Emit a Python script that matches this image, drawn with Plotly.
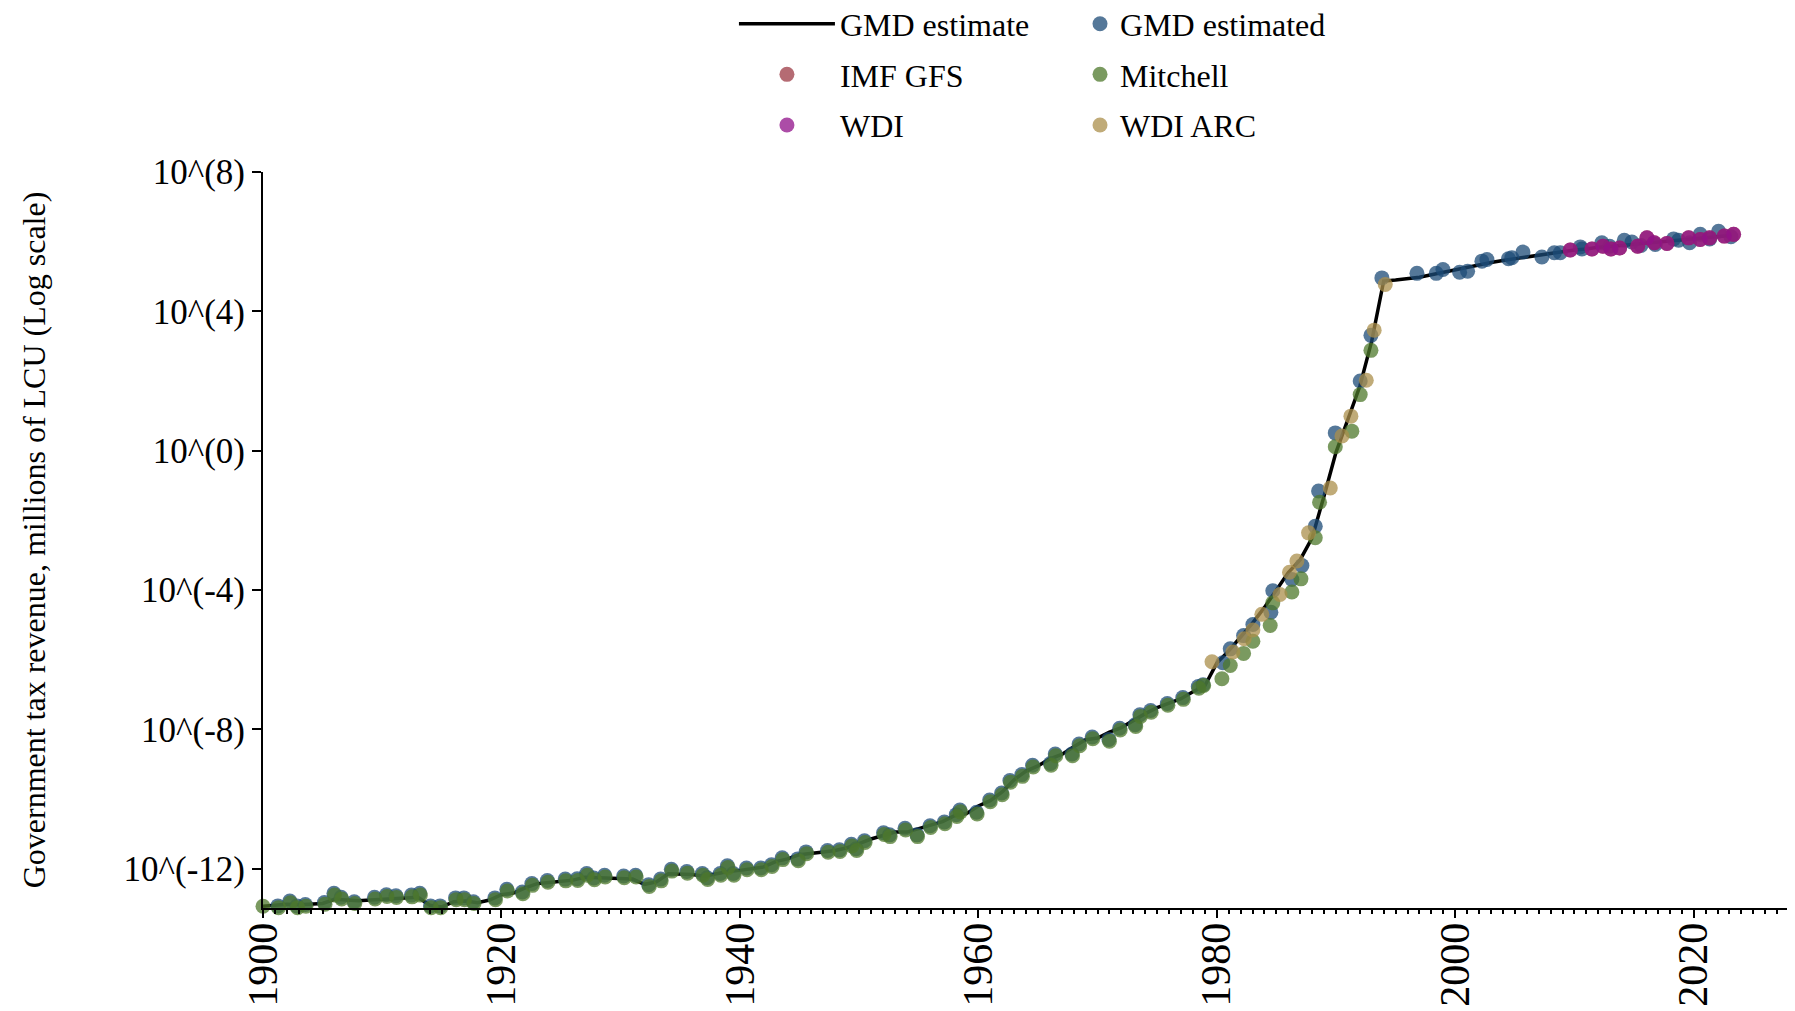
import plotly.graph_objects as go

# ---------------- data (log10 of millions of LCU) ----------------
line_years = list(range(1900, 2024))
line_log = [
    -13.08, -13.06, -13.02, -13.04, -13.02, -13.00, -12.88, -12.90, -12.92, -12.90,  # 1900-1909
    -12.88, -12.87, -12.85, -12.82, -13.05, -13.10, -12.95, -12.93, -12.98, -12.90,  # 1910-1919
    -12.75, -12.70, -12.55, -12.43, -12.40, -12.37, -12.33, -12.25, -12.26, -12.27,  # 1920-1929
    -12.27, -12.30, -12.45, -12.38, -12.15, -12.15, -12.17, -12.22, -12.15, -12.08,  # 1930-1939
    -12.05, -12.00, -11.95, -11.80, -11.72, -11.60, -11.55, -11.52, -11.48, -11.40,  # 1940-1949
    -11.28, -11.15, -11.05, -10.95, -10.95, -10.85, -10.77, -10.65, -10.48, -10.42,  # 1950-1959
    -10.20, -10.05, -9.80, -9.45, -9.20, -9.05, -8.85, -8.72, -8.50, -8.30,           # 1960-1969
    -8.25, -8.08, -7.95, -7.75, -7.55, -7.38, -7.25, -7.12, -6.92, -6.75,             # 1970-1979
    -6.10, -5.75, -5.35, -4.95, -4.50, -4.00, -3.50, -3.13, -2.50, -1.30,             # 1980-1989
    -0.05, 0.90, 1.85, 3.15, 4.87, 4.90, 4.93, 4.98, 5.05, 5.12,                      # 1990-1999
    5.20, 5.28, 5.34, 5.40, 5.46, 5.51, 5.56, 5.62, 5.67, 5.72,                       # 2000-2009
    5.76, 5.79, 5.84, 5.86, 5.89, 5.92, 5.95, 5.98, 6.01, 6.04,                       # 2010-2019
    6.07, 6.11, 6.15, 6.18,                                                           # 2020-2023
]

mitchell_x = [
    1900.0, 1901.3, 1902.3, 1902.9, 1903.6, 1905.2, 1906.0, 1906.6, 1907.7, 1909.4,
    1910.4, 1911.2, 1912.5, 1913.2, 1914.1, 1914.9, 1916.2, 1916.9, 1917.7, 1919.5,
    1920.5, 1921.8, 1922.6, 1923.9, 1925.4, 1926.4, 1927.2, 1927.8, 1928.7, 1930.3,
    1931.3, 1932.4, 1933.4, 1934.3, 1935.6, 1936.9, 1937.3, 1938.4, 1939.0, 1939.5,
    1940.6, 1941.8, 1942.7, 1943.6, 1944.9, 1945.6, 1947.4, 1948.4, 1949.4, 1949.8,
    1950.5, 1952.1, 1952.6, 1953.9, 1954.9, 1956.0, 1957.2, 1958.2, 1958.5, 1959.9,
    1961.0, 1962.0, 1962.7, 1963.7, 1964.6, 1966.1, 1966.5, 1967.9, 1968.5, 1969.6,
    1971.0, 1971.9, 1973.2, 1973.6, 1974.5, 1975.9, 1977.2, 1978.5, 1978.9,
    1980.43, 1981.13, 1982.25, 1983.03, 1984.48, 1984.7, 1986.3, 1987.06, 1988.26, 1988.62,
    1989.94, 1991.33, 1992.03, 1992.93,
]
mitchell_log = [
    -13.08, -13.12, -12.98, -13.12, -13.08, -13.02, -12.76, -12.87, -13.00, -12.87,
    -12.80, -12.83, -12.81, -12.76, -13.12, -13.12, -12.89, -12.89, -13.00, -12.89,
    -12.64, -12.72, -12.48, -12.39, -12.35, -12.34, -12.19, -12.32, -12.24, -12.26,
    -12.24, -12.51, -12.35, -12.07, -12.13, -12.19, -12.31, -12.19, -11.97, -12.19,
    -12.03, -12.03, -11.94, -11.74, -11.77, -11.57, -11.53, -11.51, -11.35, -11.48,
    -11.25, -11.02, -11.08, -10.89, -11.08, -10.82, -10.71, -10.50, -10.37, -10.43,
    -10.08, -9.88, -9.52, -9.35, -9.08, -9.03, -8.76, -8.76, -8.47, -8.27,
    -8.34, -8.02, -7.92, -7.63, -7.51, -7.31, -7.14, -6.82, -6.74,
    -6.55, -6.17, -5.82, -5.47, -5.02, -4.37, -4.06, -3.68, -2.50, -1.48,
    0.11, 0.56, 1.61, 2.88,
]

gmd_x = [
    1899.95, 1901.25, 1902.25, 1902.85, 1903.55, 1905.15, 1905.95, 1906.55, 1907.65, 1909.35,
    1910.35, 1911.15, 1912.45, 1913.15, 1914.05, 1914.85, 1916.15, 1916.85, 1917.65, 1919.45,
    1920.45, 1921.75, 1922.55, 1923.85, 1925.35, 1926.35, 1927.15, 1927.75, 1928.65, 1930.25,
    1931.25, 1932.35, 1933.35, 1934.25, 1935.55, 1936.85, 1937.25, 1938.35, 1938.95, 1939.45,
    1940.55, 1941.75, 1942.65, 1943.55, 1944.85, 1945.55, 1947.35, 1948.35, 1949.35, 1949.75,
    1950.45, 1952.05, 1952.55, 1953.85, 1954.85, 1955.95, 1957.15, 1958.15, 1958.45, 1959.85,
    1960.95, 1961.95, 1962.65, 1963.65, 1964.55, 1966.05, 1966.45, 1967.85, 1968.45, 1969.55,
    1970.95, 1971.85, 1973.15, 1973.55, 1974.45, 1975.85, 1977.15, 1978.45, 1978.85,
    1980.51, 1981.13, 1982.25, 1983.03, 1984.54, 1984.7, 1986.3, 1987.14, 1988.26, 1988.54,
    1989.94, 1992.03, 1992.93, 1993.85,
    1996.79, 1998.41, 1998.97, 2000.37, 2001.04, 2002.24, 2002.66, 2004.47, 2004.75, 2005.68,
    2007.27, 2008.31, 2008.81, 2010.49, 2010.63, 2012.3, 2012.95, 2014.18, 2014.82, 2015.58,
    2016.78, 2018.32, 2018.74, 2019.66, 2020.55, 2021.34, 2022.09, 2023.13,
]
gmd_log = [
    -13.03, -13.07, -12.93, -13.07, -13.03, -12.97, -12.71, -12.82, -12.95, -12.82,
    -12.75, -12.78, -12.76, -12.71, -13.07, -13.07, -12.84, -12.84, -12.95, -12.84,
    -12.59, -12.67, -12.43, -12.34, -12.30, -12.29, -12.14, -12.27, -12.19, -12.21,
    -12.19, -12.46, -12.30, -12.02, -12.08, -12.14, -12.26, -12.14, -11.92, -12.14,
    -11.98, -11.98, -11.89, -11.69, -11.72, -11.52, -11.48, -11.46, -11.30, -11.43,
    -11.20, -10.97, -11.03, -10.84, -11.03, -10.77, -10.66, -10.45, -10.32, -10.38,
    -10.03, -9.83, -9.47, -9.30, -9.03, -8.98, -8.71, -8.71, -8.42, -8.22,
    -8.29, -7.97, -7.87, -7.58, -7.46, -7.26, -7.09, -6.77, -6.72,
    -6.09, -5.69, -5.31, -4.99, -4.64, -4.02, -3.70, -3.30, -2.17, -1.16,
    0.51, 2.00, 3.31, 4.96,
    5.09, 5.09, 5.20, 5.12, 5.15, 5.44, 5.49, 5.51, 5.54, 5.70,
    5.56, 5.68, 5.68, 5.85, 5.79, 5.97, 5.87, 6.04, 5.99, 5.89,
    5.92, 6.08, 6.04, 5.97, 6.21, 6.08, 6.30, 6.14,
]

wdiarc_x = [1979.6, 1981.35, 1982.3, 1983.03, 1983.78, 1985.3, 1986.1, 1986.72, 1987.7,
            1989.52, 1990.5, 1991.25, 1992.54, 1993.2, 1994.13]
wdiarc_log = [-6.06, -5.78, -5.40, -5.15, -4.70, -4.13, -3.49, -3.17, -2.36,
              -1.07, 0.42, 0.99, 2.02, 3.46, 4.77]

wdi_x = [2009.65, 2011.47, 2012.39, 2013.06, 2013.79, 2015.3, 2016.08, 2016.7, 2017.76,
         2019.58, 2020.55, 2021.34, 2022.57, 2023.35]
wdi_log = [5.76, 5.79, 5.87, 5.79, 5.82, 5.87, 6.11, 5.97, 5.95,
           6.11, 6.06, 6.11, 6.16, 6.21]

imf_x = wdi_x
imf_log = wdi_log

y_tickvals = [-12, -8, -4, 0, 4, 8]
y_ticktext = ["10^(-12)", "10^(-8)", "10^(-4)", "10^(0)", "10^(4)", "10^(8)"]
x_tickvals = [1900, 1920, 1940, 1960, 1980, 2000, 2020]

# ---------------- styling ----------------
FONT = "Liberation Serif"
MS = 15
OP = 0.75

fig = go.Figure()
fig.add_trace(go.Scatter(x=line_years, y=line_log, mode="lines", name="GMD estimate",
                         line=dict(color="black", width=3.5), legend="legend",
                         legendgroup="a", cliponaxis=False))
fig.add_trace(go.Scatter(x=gmd_x, y=gmd_log, mode="markers", name="GMD estimated",
                         marker=dict(color="#1c4b77", size=MS, opacity=OP),
                         legend="legend2", legendgroup="b", cliponaxis=False))
fig.add_trace(go.Scatter(x=mitchell_x, y=mitchell_log, mode="markers", name="Mitchell",
                         marker=dict(color="#4d782b", size=MS, opacity=OP),
                         legend="legend2", legendgroup="c", cliponaxis=False))
fig.add_trace(go.Scatter(x=wdiarc_x, y=wdiarc_log, mode="markers", name="WDI ARC",
                         marker=dict(color="#ab8f4b", size=MS, opacity=OP),
                         legend="legend2", legendgroup="d", cliponaxis=False))
fig.add_trace(go.Scatter(x=imf_x, y=imf_log, mode="markers", name="IMF GFS",
                         marker=dict(color="#9c3944", size=MS, opacity=OP),
                         legend="legend", legendgroup="e", cliponaxis=False))
fig.add_trace(go.Scatter(x=wdi_x, y=wdi_log, mode="markers", name="WDI",
                         marker=dict(color="#90108a", size=MS, opacity=OP),
                         legend="legend", legendgroup="f", cliponaxis=False))

legend_common = dict(font=dict(family=FONT, size=32, color="black"),
                     bgcolor="rgba(0,0,0,0)", borderwidth=0,
                     tracegroupgap=6, yanchor="top", xanchor="left",
                     orientation="v")

fig.update_layout(
    width=1795, height=1011,
    paper_bgcolor="white", plot_bgcolor="white",
    margin=dict(l=255, r=8, t=164, b=111, autoexpand=False),
    font=dict(family=FONT, color="black"),
    showlegend=True,
    legend=dict(x=0.3074, y=1.2385, itemwidth=96, **legend_common),
    legend2=dict(x=0.5333, y=1.2385, itemwidth=30, **legend_common),
    xaxis=dict(
        range=[1900, 2028.5], showgrid=False, zeroline=False, automargin=False,
        showline=True, linecolor="black", linewidth=2,
        tickmode="array", tickvals=x_tickvals, ticktext=[str(v) for v in x_tickvals],
        ticks="outside", ticklen=8, tickwidth=2, tickcolor="black",
        tickangle=-90, tickfont=dict(family=FONT, size=42, color="black"),
        ticklabelstandoff=-12,
        minor=dict(dtick=1, tick0=1900, ticks="outside", ticklen=4, tickwidth=1.5,
                   tickcolor="black", showgrid=False),
    ),
    yaxis=dict(
        range=[-13.13, 8], showgrid=False, zeroline=False, automargin=False,
        showline=True, linecolor="black", linewidth=2,
        tickmode="array", tickvals=y_tickvals, ticktext=y_ticktext,
        ticks="outside", ticklen=9, tickwidth=2, tickcolor="black",
        tickfont=dict(family=FONT, size=35, color="black"),
        title=dict(text="Government tax revenue, millions of LCU (Log scale)",
                   font=dict(family=FONT, size=32, color="black"), standoff=68),
    ),
)

fig.write_html("out.html")
